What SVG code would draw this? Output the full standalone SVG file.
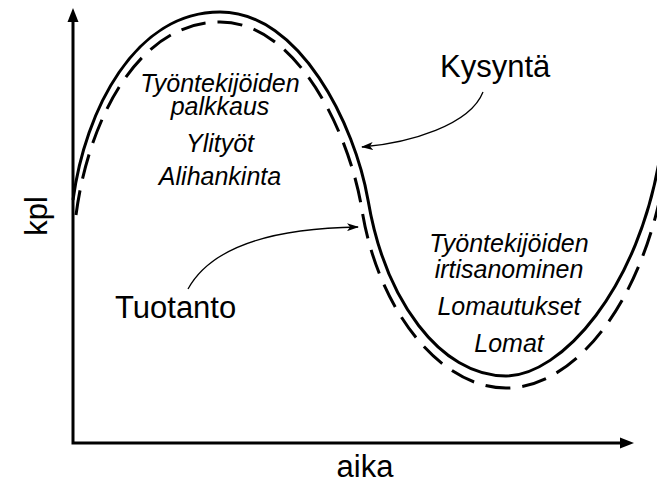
<svg xmlns="http://www.w3.org/2000/svg" width="657" height="482" viewBox="0 0 657 482">
  <defs>
    <style>
      .axis { fill: none; stroke: #000; stroke-width: 3; }
      .head { fill: #000; stroke: none; }
      .solid { fill: none; stroke: #000; stroke-width: 3; }
      .dashed { fill: none; stroke: #000; stroke-width: 3; stroke-dasharray: 25 12; }
      .pointer { fill: none; stroke: #000; stroke-width: 1.3; marker-end: url(#arr); }
      .big { font-family: "Liberation Sans", Arial, sans-serif; font-size: 31px; fill: #000; }
      .it { font-family: "Liberation Sans", Arial, sans-serif; font-size: 25px; font-style: italic; fill: #000; text-anchor: middle; }
    </style>
    <marker id="arr" viewBox="0 0 12 8" refX="11" refY="4" markerWidth="12" markerHeight="8" markerUnits="userSpaceOnUse" orient="auto">
      <path d="M0,0 L12,4 L0,8 L3,4 Z" fill="#000"/>
    </marker>
  </defs>
  <rect width="657" height="482" fill="#fff"/>

  <g id="axes">
    <path class="axis" d="M73,18 V443 H624"/>
    <polygon class="head" points="73,8 67.5,22 78.5,22"/>
    <polygon class="head" points="634,443 620,437.5 620,448.5"/>
    <text class="big" text-anchor="middle" x="365" y="477">aika</text>
    <text class="big" text-anchor="middle" transform="translate(47,216) rotate(-90)">kpl</text>
  </g>

  <g id="curves">
    <path id="kysynta-curve" class="solid" d="M73,200 C85,110 135,12 220,12 C300,12 355,125 368,200 C385,300 440,376 506,376 C560,376 640,290 661,150"/>
    <path id="tuotanto-curve" class="dashed" d="M76,215 C88,122 137,22 220,22 C298,22 350,135 362,210 C378,310 440,388 506,388 C580,388 652,290 668,150"/>
  </g>

  <g id="connectors">
    <path class="pointer" d="M483,92 C470,125 410,143 362,147"/>
    <path class="pointer" d="M188,289 C215,240 290,228 358,227"/>
  </g>

  <g id="label-kysynta">
    <text class="big" x="440" y="77">Kysyntä</text>
  </g>
  <g id="label-tuotanto">
    <text class="big" x="115" y="318">Tuotanto</text>
  </g>

  <g id="label-upper">
    <text class="it" x="220" y="92">Työntekijöiden</text>
    <text class="it" x="220" y="115">palkkaus</text>
    <text class="it" x="220" y="152">Ylityöt</text>
    <text class="it" x="220" y="185">Alihankinta</text>
  </g>

  <g id="label-lower">
    <text class="it" x="509" y="252">Työntekijöiden</text>
    <text class="it" x="509" y="278">irtisanominen</text>
    <text class="it" x="509" y="315">Lomautukset</text>
    <text class="it" x="509" y="352">Lomat</text>
  </g>
</svg>
